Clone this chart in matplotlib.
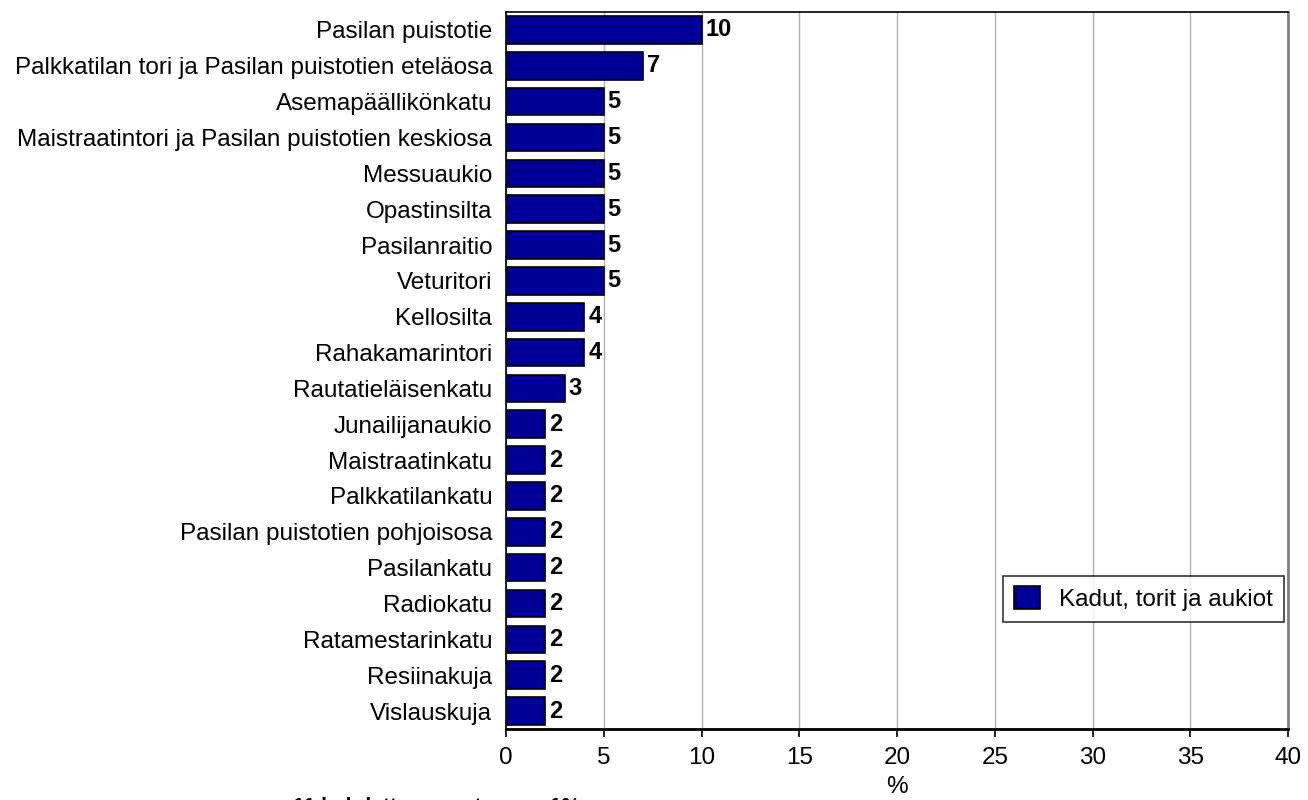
import matplotlib.pyplot as plt

plt.rcParams['font.family'] = ['Liberation Sans', 'DejaVu Sans']

places = ['Pasilan puistotie',
          'Palkkatilan tori ja Pasilan puistotien eteläosa',
          'Asemapäällikönkatu',
          'Maistraatintori ja Pasilan puistotien keskiosa',
          'Messuaukio', 'Opastinsilta', 'Pasilanraitio', 'Veturitori',
          'Kellosilta', 'Rahakamarintori', 'Rautatieläisenkatu',
          'Junailijanaukio', 'Maistraatinkatu', 'Palkkatilankatu',
          'Pasilan puistotien pohjoisosa', 'Pasilankatu', 'Radiokatu',
          'Ratamestarinkatu', 'Resiinakuja', 'Vislauskuja']
values = [10, 7, 5, 5, 5, 5, 5, 5, 4, 4, 3, 2, 2, 2, 2, 2, 2, 2, 2, 2]
series_name = 'Kadut, torit ja aukiot'
note = '11 kohdetta saanut arvon 1%'

fig = plt.figure(figsize=(13.08, 8), dpi=100)
ax = fig.add_axes([0.3869, 0.0888, 0.5978, 0.8962])

pos = list(range(len(places)))
ax.barh(pos, values, height=0.77, color='#000099', edgecolor='black',
        linewidth=1.2, label=series_name, zorder=3)
for p, v in zip(pos, values):
    ax.text(v + 0.2, p, str(v), va='center', ha='left', fontsize=17,
            fontweight='bold', zorder=4)

ax.set_yticks(pos)
ax.set_yticklabels(places, fontsize=17.5)
ax.tick_params(axis='y', length=0, pad=10)
ax.set_ylim(19.5, -0.5)

ax.set_xlim(0, 40)
ax.set_xticks(range(0, 41, 5))
ax.tick_params(axis='x', labelsize=17.5, length=6, width=1.2, pad=7)
ax.set_xlabel('%', fontsize=17.5, labelpad=5)
ax.grid(axis='x', color='#b0b0b0', linewidth=1, zorder=0)

ax.spines['bottom'].set_linewidth(2)
ax.spines['top'].set_linewidth(1.2)
ax.spines['left'].set_linewidth(1.2)
ax.spines['right'].set_color('#808080')
ax.spines['right'].set_linewidth(2)

leg = ax.legend(loc='lower right', bbox_to_anchor=(0.995, 0.149),
                fontsize=17.5, frameon=True, fancybox=False, edgecolor='black',
                handlelength=1.07, handleheight=1.07, borderpad=0.45,
                handletextpad=0.8, borderaxespad=0)
leg.get_frame().set_linewidth(1.2)

fig.text(293 / 1308, -12 / 800, note, fontsize=15, fontweight='bold',
         ha='left', va='baseline')

fig.savefig('out.png', dpi=100)
